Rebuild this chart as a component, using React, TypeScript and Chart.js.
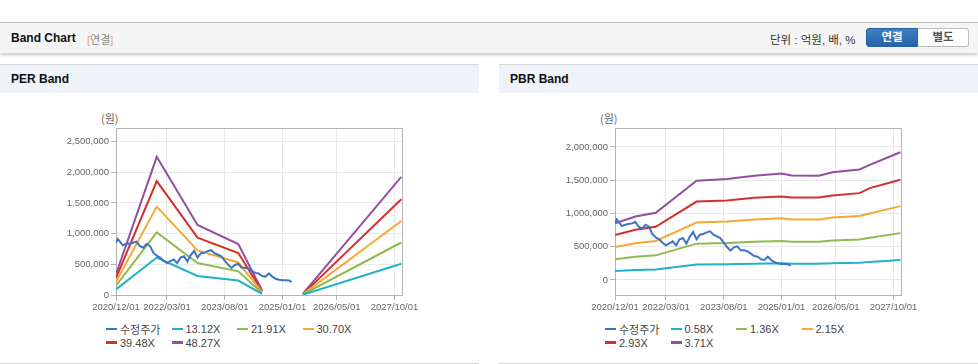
import React, { useEffect, useRef } from "react";
import { Chart, registerables } from "chart.js";

Chart.register(...registerables);

// ---------- data ----------
const xTickMonths = [0, 15, 32, 49, 65, 82];
const xTickLabels = ["2020/12/01", "2022/03/01", "2023/08/01", "2025/01/01", "2026/05/01", "2027/10/01"];

const perYTicks = [0, 500000, 1000000, 1500000, 2000000, 2500000];
const pbrYTicks = [0, 500000, 1000000, 1500000, 2000000];

// 수정주가 (months since 2020/12)
const priceMonths = [0, 0.5, 1, 2, 3, 4, 5, 6, 7, 8, 9, 10, 11, 12, 13, 14, 15, 16, 17, 18, 19, 20, 21, 22, 23, 24, 25, 26, 27, 28, 29, 30, 31, 32, 33, 34, 35, 36, 37, 38, 39, 40, 41, 42, 43, 44, 45, 46, 47, 48, 49, 50, 51, 51.7];
const priceValues = [850000, 910000, 880000, 810000, 830000, 840000, 850000, 870000, 800000, 770000, 830000, 800000, 690000, 640000, 610000, 560000, 520000, 550000, 580000, 520000, 610000, 630000, 545000, 650000, 720000, 610000, 680000, 690000, 715000, 730000, 680000, 655000, 630000, 560000, 495000, 440000, 490000, 505000, 445000, 445000, 430000, 395000, 360000, 350000, 310000, 300000, 350000, 300000, 265000, 250000, 240000, 240000, 235000, 215000];

// PER band
const perBandMonths = [0, 12, 24, 36, 43, 49, 55, 84];
const per1312 = [92000, 610000, 310000, 235000, 20000, null, 5000, 510000];
const per2191 = [153000, 1020000, 520000, 385000, 33000, null, 8000, 855000];
const per3070 = [215000, 1440000, 725000, 530000, 46000, null, 11000, 1205000];
const per3948 = [276000, 1855000, 935000, 685000, 60000, null, 14000, 1560000];
const per4827 = [338000, 2250000, 1140000, 830000, 72000, null, 17000, 1925000];

// PBR band
const pbrBandMonths = [0, 6, 12, 24, 33, 41, 49, 52, 60, 64, 72, 75, 84];
const pbr058 = [133000, 149000, 158000, 233000, 237000, 245000, 250000, 245000, 245000, 253000, 259000, 270000, 300000];
const pbr136 = [313000, 350000, 370000, 546000, 556000, 574000, 587000, 575000, 574000, 594000, 609000, 634000, 704000];
const pbr215 = [495000, 553000, 586000, 864000, 879000, 908000, 928000, 910000, 908000, 940000, 963000, 1000000, 1110000];
const pbr293 = [675000, 754000, 800000, 1178000, 1195000, 1237000, 1255000, 1240000, 1240000, 1270000, 1305000, 1380000, 1506000];
const pbr371 = [853000, 954000, 1010000, 1490000, 1516000, 1566000, 1600000, 1570000, 1566000, 1620000, 1660000, 1730000, 1920000];

const perLabels = ["수정주가", "13.12X", "21.91X", "30.70X", "39.48X", "48.27X"];
const pbrLabels = ["수정주가", "0.58X", "1.36X", "2.15X", "2.93X", "3.71X"];
const seriesColors = ["#3b74c4", "#1fb1c9", "#8fba4e", "#f5a834", "#d3302c", "#924f9f"];

// ---------- helpers ----------
const toPts = (xs: number[], ys: (number | null)[]) => xs.map((x, i) => ({ x, y: ys[i] }));

const tickFont = { family: "'Liberation Sans', Arial, sans-serif", size: 9.5 };

const framePlugin = {
  id: "frame",
  afterDraw(chart: any) {
    const { ctx, chartArea } = chart;
    const l = Math.round(chartArea.left) + 0.5;
    const t = Math.round(chartArea.top) + 0.5;
    const r = Math.round(chartArea.right) + 0.5;
    const b = Math.round(chartArea.bottom) + 0.5;
    ctx.save();
    ctx.strokeStyle = "#b4b4b4";
    ctx.lineWidth = 1;
    ctx.beginPath();
    ctx.moveTo(l, t);
    ctx.lineTo(r, t);
    ctx.lineTo(r, b);
    ctx.stroke();
    ctx.restore();
  },
};

function makeConfig(datasets: any[], yMin: number, yMax: number, yTicks: number[]): any {
  return {
    type: "line",
    data: { datasets },
    options: {
      animation: false,
      responsive: false,
      maintainAspectRatio: false,
      layout: { padding: { left: 0, right: 77, top: 28, bottom: 0 } },
      plugins: { legend: { display: false }, tooltip: { enabled: false } },
      elements: { point: { radius: 0 }, line: { borderWidth: 2, tension: 0 } },
      spanGaps: false,
      scales: {
        x: {
          type: "linear",
          min: 0,
          max: 84.2,
          afterBuildTicks: (s: any) => {
            s.ticks = xTickMonths.map((v) => ({ value: v }));
          },
          afterFit: (s: any) => {
            s.height = 25;
          },
          ticks: {
            autoSkip: false,
            maxRotation: 0,
            minRotation: 0,
            padding: 2,
            color: "#666",
            font: tickFont,
            callback: (_v: any, i: number) => xTickLabels[i],
          },
          grid: { color: "#e8e8e8", tickColor: "#b4b4b4", tickLength: 5 },
          border: { color: "#b4b4b4" },
        },
        y: {
          type: "linear",
          min: yMin,
          max: yMax,
          afterBuildTicks: (s: any) => {
            s.ticks = yTicks.map((v) => ({ value: v }));
          },
          afterFit: (s: any) => {
            s.width = 116;
          },
          ticks: {
            padding: 2,
            color: "#666",
            font: tickFont,
            callback: (v: any) => Number(v).toLocaleString("en-US"),
          },
          grid: { color: "#e8e8e8", tickColor: "#b4b4b4", tickLength: 5 },
          border: { color: "#b4b4b4" },
        },
      },
    },
    plugins: [framePlugin],
  };
}

function buildDatasets(kind: "per" | "pbr") {
  const price = { data: toPts(priceMonths, priceValues), borderColor: seriesColors[0], borderWidth: 2 };
  const bands =
    kind === "per"
      ? [per1312, per2191, per3070, per3948, per4827].map((vals, i) => ({
          data: toPts(perBandMonths, vals),
          borderColor: seriesColors[i + 1],
          borderWidth: 2,
        }))
      : [pbr058, pbr136, pbr215, pbr293, pbr371].map((vals, i) => ({
          data: toPts(pbrBandMonths, vals),
          borderColor: seriesColors[i + 1],
          borderWidth: 2,
        }));
  return [price, ...bands];
}

function Legend({ labels }: { labels: string[] }) {
  return (
    <div style={{ position: "absolute", left: 106, top: 322, width: 300 }}>
      {labels.map((lab, i) => {
        const col = i % 4;
        const row = Math.floor(i / 4);
        return (
          <div
            key={lab}
            style={{
              position: "absolute",
              left: col * 65.5,
              top: row * 13.5,
              height: 14,
              display: "flex",
              alignItems: "center",
              whiteSpace: "nowrap",
              fontFamily: "'Liberation Sans', 'Noto Sans CJK KR', Arial, sans-serif",
              fontSize: 11,
              color: "#444",
            }}
          >
            <span style={{ display: "inline-block", width: 11, height: 2.5, background: seriesColors[i], marginRight: 3 }} />
            <span>{lab}</span>
          </div>
        );
      })}
    </div>
  );
}

function Panel({ kind, left }: { kind: "per" | "pbr"; left: number }) {
  const ref = useRef<HTMLCanvasElement | null>(null);
  useEffect(() => {
    if (!ref.current) return;
    const ds = buildDatasets(kind);
    const cfg =
      kind === "per" ? makeConfig(ds, 0, 2720000, perYTicks) : makeConfig(ds, -226000, 2284000, pbrYTicks);
    const chart = new Chart(ref.current, cfg);
    return () => chart.destroy();
  }, [kind]);
  return (
    <div style={{ position: "absolute", left, top: 64, width: 479, height: 299, borderBottom: "1px solid #d4d4d4" }}>
      <div
        style={{
          position: "absolute",
          left: 0,
          top: 0,
          width: 479,
          height: 28,
          borderTop: "1px solid #d6d6d6",
          background: "#eff2f7",
        }}
      >
        <span
          style={{
            position: "absolute",
            left: 11,
            top: 7,
            fontFamily: "'Liberation Sans', Arial, sans-serif",
            fontWeight: "bold",
            fontSize: 12,
            color: "#111",
          }}
        >
          {kind === "per" ? "PER Band" : "PBR Band"}
        </span>
      </div>
      <span
        style={{
          position: "absolute",
          left: 101,
          top: 46,
          fontFamily: "'Noto Sans CJK KR', sans-serif",
          fontSize: 11,
          color: "#666",
        }}
      >
        (원)
      </span>
      <canvas
        ref={ref}
        width={479}
        height={220}
        style={{ position: "absolute", left: 0, top: 36, width: 479, height: 220 }}
      />
      <div style={{ position: "absolute", left: 0, top: -64 }}>
        <Legend labels={kind === "per" ? perLabels : pbrLabels} />
      </div>
    </div>
  );
}

export default function App() {
  return (
    <div
      style={{
        position: "absolute",
        left: 0,
        top: 0,
        width: 978,
        height: 364,
        background: "#fff",
        overflow: "hidden",
        fontFamily: "'Liberation Sans', 'Noto Sans CJK KR', Arial, sans-serif",
      }}
    >
      <div
        style={{
          position: "absolute",
          left: 0,
          top: 22,
          width: 978,
          height: 30,
          borderTop: "1px solid #bdbdbd",
          background: "#f5f5f5",
          boxShadow: "0 2px 3px rgba(0,0,0,0.22)",
        }}
      >
        <span style={{ position: "absolute", left: 11, top: 8, fontWeight: "bold", fontSize: 12, color: "#111" }}>
          Band Chart
        </span>
        <span style={{ position: "absolute", left: 87, top: 8, fontSize: 11, color: "#888" }}>
          <span style={{ color: "#d9a56e" }}>[</span>연결<span style={{ color: "#d9a56e" }}>]</span>
        </span>
        <span style={{ position: "absolute", left: 770, top: 8, fontSize: 11.5, color: "#333" }}>
          단위 : 억원, 배, %
        </span>
        <div
          style={{
            position: "absolute",
            left: 866,
            top: 5,
            width: 52,
            height: 19,
            boxSizing: "border-box",
            background: "linear-gradient(#3b80c6, #2862a8)",
            border: "1px solid #2a5f9e",
            borderRadius: "3px 0 0 3px",
            color: "#fff",
            fontWeight: "bold",
            fontSize: 11.5,
            textAlign: "center",
            lineHeight: "17px",
          }}
        >
          연결
        </div>
        <div
          style={{
            position: "absolute",
            left: 918,
            top: 5,
            width: 51,
            height: 19,
            boxSizing: "border-box",
            background: "#fff",
            border: "1px solid #bbb",
            borderLeft: "none",
            borderRadius: "0 3px 3px 0",
            color: "#555",
            fontWeight: "bold",
            fontSize: 11.5,
            textAlign: "center",
            lineHeight: "17px",
          }}
        >
          별도
        </div>
      </div>
      <Panel kind="per" left={0} />
      <Panel kind="pbr" left={499} />
    </div>
  );
}
